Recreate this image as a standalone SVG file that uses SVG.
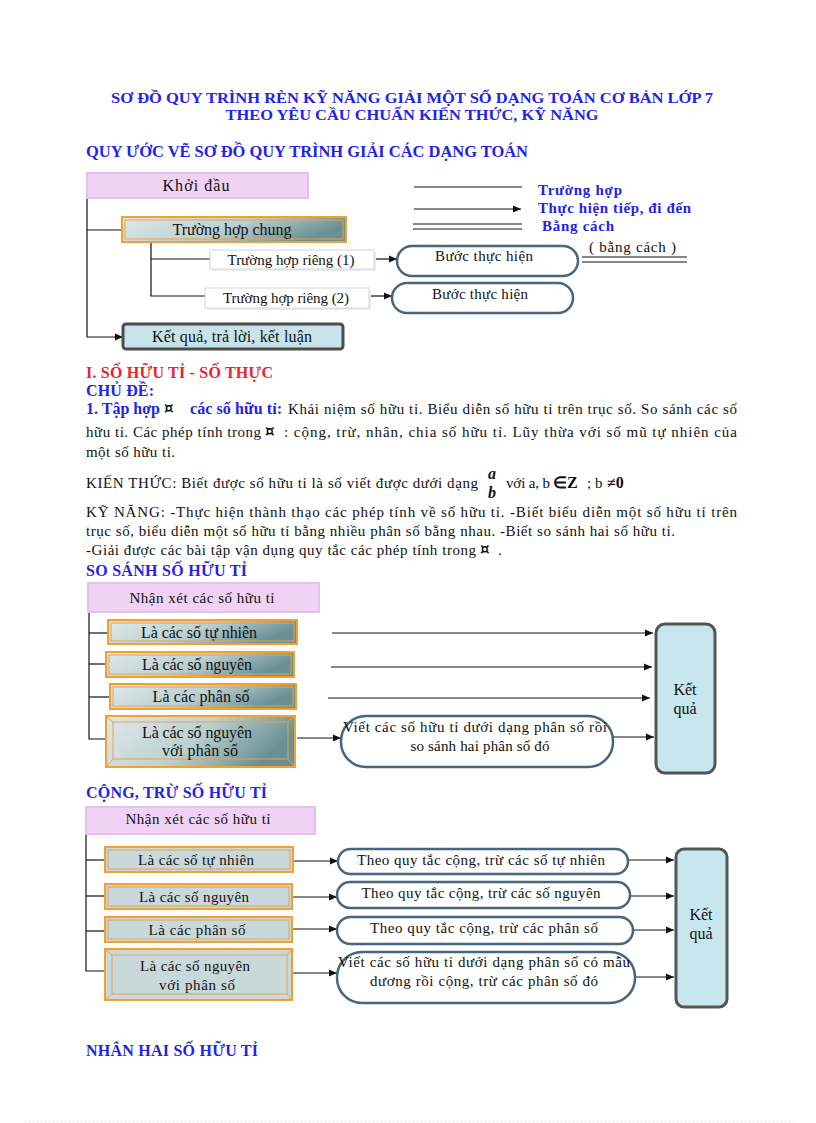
<svg xmlns="http://www.w3.org/2000/svg" width="816" height="1123" viewBox="0 0 816 1123">
<defs>
<style>
text{font-family:"Liberation Serif","Times New Roman",serif;}
.t{font-size:16px;fill:#111;}
.c{text-anchor:middle;}
.b{font-size:15px;fill:#111;}
.h{font-size:16px;font-weight:bold;fill:#2323e6;}
.red{font-size:16px;font-weight:bold;fill:#e8222e;}
.lg{font-size:15px;font-weight:bold;fill:#2323e6;}
.bb{font-weight:bold;}
.q{font-family:"DejaVu Serif","DejaVu Sans",serif;font-size:15px;font-weight:bold;fill:#111;}
.ln{stroke:#111;stroke-width:1.2;fill:none;}
.ar{stroke:#111;stroke-width:1.2;fill:none;marker-end:url(#ah);}
.lav{fill:#f0d3f4;stroke:#e2c2ea;stroke-width:2;}
.org{fill:url(#gt);stroke:#f2a12e;stroke-width:2;}
.orgl{fill:#c9d9db;stroke:#f2a12e;stroke-width:2;}
.orgi{fill:none;stroke:#eaa24a;stroke-width:1;}
.bev{fill:none;stroke:#eaa24a;stroke-width:1;}
.st{fill:#fff;stroke:#46657e;stroke-width:2.5;}
.kq{fill:#c8e6ee;stroke:#555;stroke-width:3;}
.wr{fill:#fff;stroke:#d6d6d6;stroke-width:1;}
</style>
<linearGradient id="gt" x1="0" y1="0" x2="1" y2="0.3">
<stop offset="0" stop-color="#dfe9ea"/>
<stop offset="0.55" stop-color="#bcd0d2"/>
<stop offset="1" stop-color="#6a9095"/>
</linearGradient>
<marker id="ah" viewBox="0 0 10 10" refX="10" refY="5" markerWidth="9" markerHeight="8" markerUnits="userSpaceOnUse" orient="auto">
<path d="M0,0.5 L10,5 L0,9.5 z" fill="#111"/>
</marker>
</defs>
<rect x="0" y="0" width="816" height="1123" fill="#fff"/>

<g id="titles">
<text class="h" x="412" y="103" text-anchor="middle" style="font-size:15px" textLength="602" lengthAdjust="spacingAndGlyphs">SƠ ĐỒ QUY TRÌNH RÈN KỸ NĂNG GIẢI MỘT SỐ DẠNG TOÁN CƠ BẢN LỚP 7</text>
<text class="h" x="412" y="120" text-anchor="middle" style="font-size:15px" textLength="373" lengthAdjust="spacingAndGlyphs">THEO YÊU CẦU CHUẨN KIẾN THỨC, KỸ NĂNG</text>
<text class="h" x="86" y="157" textLength="442" lengthAdjust="spacingAndGlyphs">QUY ƯỚC VẼ SƠ ĐỒ QUY TRÌNH GIẢI CÁC DẠNG TOÁN</text>
</g>

<g id="connectors">
<polyline class="ln" points="87,198 87,337 114,337"/>
<line class="ar" x1="114" y1="337" x2="123" y2="337"/>
<line class="ln" x1="87" y1="230" x2="122" y2="230"/>
<polyline class="ln" points="151,242 151,296 205,296"/>
<line class="ln" x1="151" y1="259" x2="210" y2="259"/>
<line class="ar" x1="374" y1="259" x2="397" y2="259"/>
<line class="ar" x1="369" y1="296" x2="392" y2="296"/>
<line class="ln" x1="414" y1="187" x2="522" y2="187"/>
<line class="ar" x1="414" y1="209" x2="521" y2="209"/>
<line class="ln" x1="413" y1="224" x2="522" y2="224"/>
<line class="ln" x1="413" y1="229" x2="522" y2="229"/>
<line class="ln" x1="582" y1="257" x2="687" y2="257"/>
<line class="ln" x1="582" y1="262" x2="687" y2="262"/>

<polyline class="ln" points="89,612 89,739 106,739"/>
<line class="ln" x1="89" y1="633" x2="108" y2="633"/>
<line class="ln" x1="89" y1="664" x2="106" y2="664"/>
<line class="ln" x1="89" y1="697" x2="110" y2="697"/>
<line class="ar" x1="332" y1="633" x2="653" y2="633"/>
<line class="ar" x1="331" y1="667" x2="652" y2="667"/>
<line class="ar" x1="328" y1="698" x2="650" y2="698"/>
<line class="ar" x1="297" y1="738" x2="341" y2="738"/>
<line class="ar" x1="613" y1="737" x2="654" y2="737"/>

<polyline class="ln" points="86,834 86,971 105,971"/>
<line class="ln" x1="86" y1="860" x2="105" y2="860"/>
<line class="ln" x1="86" y1="896" x2="105" y2="896"/>
<line class="ln" x1="86" y1="931" x2="105" y2="931"/>
<line class="ar" x1="294" y1="861" x2="338" y2="861"/>
<line class="ar" x1="292" y1="897" x2="337" y2="897"/>
<line class="ar" x1="292" y1="929" x2="337" y2="929"/>
<line class="ar" x1="292" y1="973" x2="337" y2="973"/>
<line class="ar" x1="628" y1="860" x2="674" y2="860"/>
<line class="ar" x1="630" y1="896" x2="674" y2="896"/>
<line class="ar" x1="633" y1="930" x2="674" y2="930"/>
<line class="ar" x1="635" y1="977" x2="674" y2="977"/>
</g>

<g id="khoi-dau">
<rect class="lav" x="87" y="173" width="221" height="25"/>
<text class="t c" x="196" y="191" textLength="67" lengthAdjust="spacing">Khởi đầu</text>
</g>
<g id="truong-hop-chung">
<rect class="org" x="122" y="217" width="224" height="25"/>
<rect class="orgi" x="125" y="220" width="218" height="19"/>
<text class="t c" x="232" y="235" textLength="119" lengthAdjust="spacing">Trường hợp chung</text>
</g>
<g id="truong-hop-rieng-1">
<rect x="212" y="252" width="164" height="19" fill="#ececec"/>
<rect class="wr" x="210" y="250" width="164" height="19"/>
<text class="b c" x="291" y="265" textLength="127" lengthAdjust="spacing">Trường hợp riêng (1)</text>
</g>
<g id="truong-hop-rieng-2">
<rect x="207" y="290" width="164" height="20" fill="#ececec"/>
<rect class="wr" x="205" y="288" width="164" height="20"/>
<text class="b c" x="286" y="303" textLength="126" lengthAdjust="spacing">Trường hợp riêng (2)</text>
</g>
<g id="buoc-thuc-hien-1">
<rect class="st" x="397" y="246" width="181" height="30" rx="15"/>
<text class="b c" x="484" y="261" textLength="98" lengthAdjust="spacing">Bước thực hiện</text>
</g>
<g id="buoc-thuc-hien-2">
<rect class="st" x="392" y="283" width="181" height="30" rx="15"/>
<text class="b c" x="480" y="299" textLength="96" lengthAdjust="spacing">Bước thực hiện</text>
</g>
<g id="ket-qua-legend">
<rect x="123" y="324" width="220" height="25" rx="3" fill="#c6e3ea" stroke="#4d4d4d" stroke-width="3"/>
<text class="t c" x="232" y="342" textLength="160" lengthAdjust="spacing">Kết  quả, trả lời, kết luận</text>
</g>
<g id="legend-labels">
<text class="lg" x="538" y="195" textLength="84" lengthAdjust="spacing">Trường hợp</text>
<text class="lg" x="538" y="213" textLength="153" lengthAdjust="spacing">Thực hiện tiếp, đi đến</text>
<text class="lg" x="542" y="231" textLength="72" lengthAdjust="spacing">Bằng cách</text>
<text class="b" x="589" y="252" textLength="87" lengthAdjust="spacing">( bằng cách )</text>
</g>

<g id="section-text">
<text class="red" x="86" y="378" textLength="187" lengthAdjust="spacing">I. SỐ HỮU TỈ - SỐ THỰC</text>
<text class="h" x="86" y="396" textLength="68" lengthAdjust="spacing">CHỦ ĐỀ:</text>
<text class="h" x="86" y="414" textLength="74" lengthAdjust="spacing">1. Tập hợp</text>
<text class="q" x="164" y="413">¤</text>
<text class="h" x="190" y="414" textLength="92" lengthAdjust="spacing">các số hữu tỉ:</text>
<text class="b" x="288" y="414" textLength="449" lengthAdjust="spacing">Khái niệm số hữu tỉ. Biểu diễn số hữu tỉ trên trục số. So sánh các số</text>
<text class="b" x="86" y="437" textLength="175" lengthAdjust="spacing">hữu tỉ. Các phép tính trong</text>
<text class="q" x="265" y="436">¤</text>
<text class="b" x="284" y="437" textLength="453" lengthAdjust="spacing">: cộng, trừ, nhân, chia số hữu tỉ. Lũy thừa với số mũ tự nhiên  của</text>
<text class="b" x="86" y="457" textLength="89" lengthAdjust="spacing">một số hữu tỉ.</text>

<text class="b" x="86" y="488" textLength="392" lengthAdjust="spacing">KIẾN THỨC: Biết được số hữu tỉ là số viết được dưới dạng</text>
<text class="b" x="492" y="479" text-anchor="middle" style="font-weight:bold;font-style:italic;font-size:16px">a</text>
<text class="b" x="492" y="498" text-anchor="middle" style="font-weight:bold;font-style:italic;font-size:16px">b</text>
<text class="b" x="506" y="488" textLength="44" lengthAdjust="spacing">với a, b</text>
<text class="b bb" x="553" y="488" style="font-size:16px">∈Z</text>
<text class="b" x="587" y="488">; b</text>
<text class="b bb" x="607" y="488" style="font-size:16px">≠0</text>

<text class="b" x="86" y="517" textLength="651" lengthAdjust="spacing">KỸ NĂNG: -Thực hiện thành thạo các phép tính về số hữu tỉ. -Biết biểu diễn một số hữu tỉ trên</text>
<text class="b" x="86" y="536" textLength="589" lengthAdjust="spacing">trục số, biểu diễn một số hữu tỉ bằng nhiều  phân số bằng nhau. -Biết so sánh hai số hữu tỉ.</text>
<text class="b" x="86" y="555" textLength="390" lengthAdjust="spacing">-Giải được các bài tập vận dụng quy tắc các phép tính trong</text>
<text class="q" x="480" y="554">¤</text>
<text class="b" x="498" y="555">.</text>
<text class="h" x="86" y="576" textLength="161" lengthAdjust="spacing">SO SÁNH SỐ HỮU TỈ</text>
<text class="h" x="86" y="798" textLength="181" lengthAdjust="spacing">CỘNG, TRỪ SỐ HỮU TỈ</text>
<text class="h" x="86" y="1056" textLength="172" lengthAdjust="spacing">NHÂN HAI SỐ HỮU TỈ</text>
</g>

<g id="ss-nhan-xet">
<rect class="lav" x="88" y="583" width="231" height="29"/>
<text class="b c" x="202" y="603" textLength="145" lengthAdjust="spacing">Nhận xét các số hữu tỉ</text>
</g>
<g id="ss-tu-nhien">
<rect class="org" x="108" y="620" width="189" height="24"/>
<rect class="orgi" x="111" y="623" width="183" height="18"/>
<text class="t c" x="199" y="638" textLength="116" lengthAdjust="spacing">Là các số tự nhiên</text>
</g>
<g id="ss-nguyen">
<rect class="org" x="106" y="652" width="188" height="25"/>
<rect class="orgi" x="109" y="655" width="182" height="19"/>
<text class="t c" x="197" y="670" textLength="110" lengthAdjust="spacing">Là các số nguyên</text>
</g>
<g id="ss-phan-so">
<rect class="org" x="110" y="684" width="186" height="25"/>
<rect class="orgi" x="113" y="687" width="180" height="19"/>
<text class="t c" x="201" y="702" textLength="97" lengthAdjust="spacing">Là các phân số</text>
</g>
<g id="ss-nguyen-phan-so">
<rect class="org" x="106" y="716" width="189" height="51"/>
<rect class="bev" x="113" y="722" width="175" height="37" fill="url(#gt)"/>
<path class="bev" d="M107,717 L113,722 M294,717 L288,722 M107,766 L113,759 M294,766 L288,759"/>
<text class="t c" x="197" y="738" textLength="110" lengthAdjust="spacing">Là các số nguyên</text>
<text class="t c" x="200" y="756" textLength="76" lengthAdjust="spacing">với phân số</text>
</g>
<g id="ss-viet">
<rect class="st" x="341" y="716" width="272" height="51" rx="25"/>
<text class="b c" x="475" y="732" textLength="264" lengthAdjust="spacing">Viết các số hữu tỉ dưới dạng phân số rồi</text>
<text class="b c" x="480" y="751" textLength="139" lengthAdjust="spacing">so sánh hai phân số đó</text>
</g>
<g id="ss-ket-qua">
<rect class="kq" x="656" y="624" width="59" height="149" rx="9"/>
<text class="t c" x="685" y="695">Kết</text>
<text class="t c" x="685" y="714">quả</text>
</g>

<g id="ct-nhan-xet">
<rect class="lav" x="86" y="807" width="229" height="27"/>
<text class="b c" x="198" y="824" textLength="145" lengthAdjust="spacing">Nhận xét các số hữu tỉ</text>
</g>
<g id="ct-tu-nhien">
<rect class="orgl" x="105" y="847" width="188" height="25"/>
<rect class="orgi" x="108" y="850" width="182" height="19"/>
<text class="b c" x="196" y="865" textLength="116" lengthAdjust="spacing">Là các số tự nhiên</text>
</g>
<g id="ct-nguyen">
<rect class="orgl" x="105" y="884" width="187" height="25"/>
<rect class="orgi" x="108" y="887" width="181" height="19"/>
<text class="b c" x="194" y="902" textLength="110" lengthAdjust="spacing">Là các số nguyên</text>
</g>
<g id="ct-phan-so">
<rect class="orgl" x="105" y="917" width="187" height="25"/>
<rect class="orgi" x="108" y="920" width="181" height="19"/>
<text class="b c" x="197" y="935" textLength="97" lengthAdjust="spacing">Là các phân số</text>
</g>
<g id="ct-nguyen-phan-so">
<rect class="orgl" x="105" y="949" width="187" height="51"/>
<rect class="bev" x="112" y="955" width="175" height="39" fill="#c9d9db"/>
<path class="bev" d="M106,950 L112,955 M291,950 L287,955 M106,999 L112,994 M291,999 L287,994"/>
<text class="b c" x="195" y="971" textLength="110" lengthAdjust="spacing">Là các số nguyên</text>
<text class="b c" x="197" y="990" textLength="76" lengthAdjust="spacing">với phân số</text>
</g>
<g id="ct-theo-tu-nhien">
<rect class="st" x="338" y="849" width="290" height="25" rx="12.5"/>
<text class="b c" x="481" y="865" textLength="248" lengthAdjust="spacing">Theo quy tắc cộng, trừ các số tự nhiên</text>
</g>
<g id="ct-theo-nguyen">
<rect class="st" x="337" y="882" width="293" height="26" rx="13"/>
<text class="b c" x="481" y="898" textLength="239" lengthAdjust="spacing">Theo quy tắc cộng, trừ các số nguyên</text>
</g>
<g id="ct-theo-phan-so">
<rect class="st" x="337" y="917" width="296" height="27" rx="13.5"/>
<text class="b c" x="484" y="933" textLength="228" lengthAdjust="spacing">Theo quy tắc cộng, trừ các phân số</text>
</g>
<g id="ct-viet">
<rect class="st" x="337" y="952" width="298" height="51" rx="25"/>
<text class="b c" x="484" y="967" textLength="292" lengthAdjust="spacing">Viết các số hữu tỉ dưới dạng phân số có mẫu</text>
<text class="b c" x="484" y="986" textLength="228" lengthAdjust="spacing">dương rồi cộng, trừ các phân số đó</text>
</g>
<g id="ct-ket-qua">
<rect class="kq" x="676" y="849" width="51" height="158" rx="8"/>
<text class="t c" x="701" y="920">Kết</text>
<text class="t c" x="701" y="939">quả</text>
</g>

<line x1="25" y1="1121.5" x2="795" y2="1121.5" stroke="#c9cde0" stroke-width="1" stroke-dasharray="1 3"/>
</svg>
